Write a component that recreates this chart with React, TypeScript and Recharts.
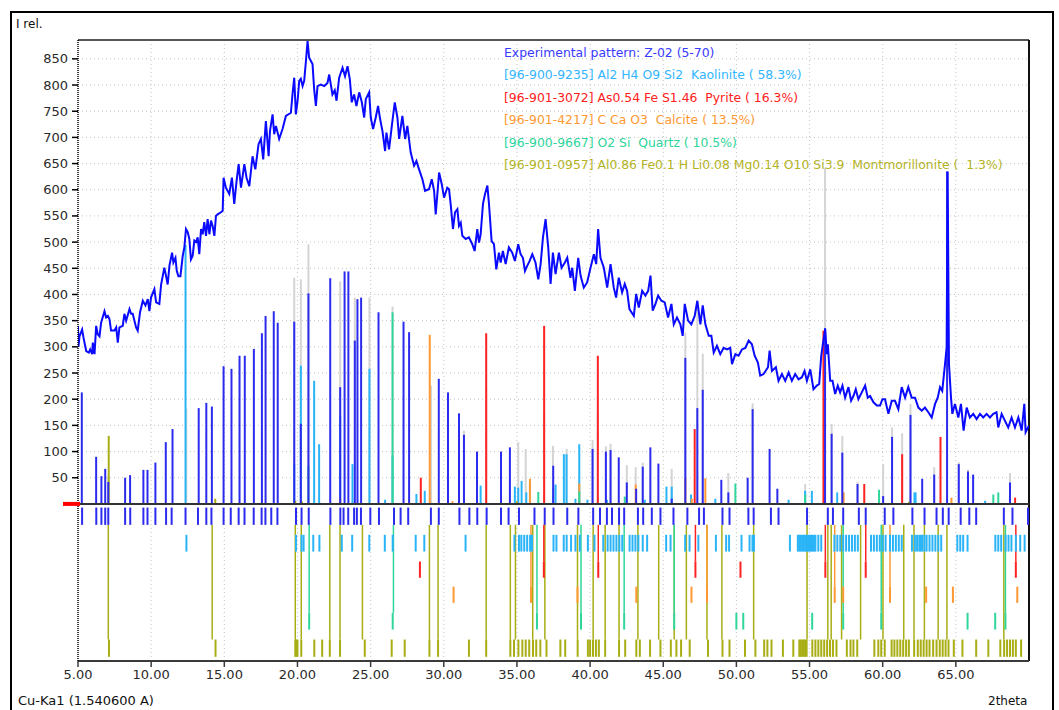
import React from 'react';
import { ComposedChart, Line, XAxis, YAxis, CartesianGrid, ReferenceLine } from 'recharts';

// ---------------- DATA ----------------
// Experimental XRD pattern: [2theta, relative intensity]
const experimentalPattern: [number, number][] = [
  [5.00,340],[5.03,300],[5.10,320],[5.28,333],[5.38,317],[5.56,292],[5.74,289],[5.83,295],[5.97,286],[6.01,308],[6.13,286],[6.24,340],[6.35,324],[6.47,320],[6.58,346],[6.81,368],[6.92,356],[7.04,359],[7.15,353],[7.26,331],[7.49,331],[7.61,337],[7.72,308],[7.83,337],[8.06,340],[8.17,363],[8.29,350],[8.52,372],[8.63,363],[8.74,363],[8.97,337],[9.08,331],[9.24,366],[9.43,388],[9.61,379],[9.77,391],[9.88,368],[9.99,394],[10.22,410],[10.34,385],[10.56,382],[10.68,419],[10.90,451],[11.02,435],[11.13,419],[11.25,455],[11.43,480],[11.52,461],[11.66,470],[11.75,445],[11.86,435],[12.00,435],[12.16,474],[12.27,490],[12.38,525],[12.50,519],[12.61,506],[12.72,467],[12.84,474],[12.95,503],[13.07,500],[13.18,509],[13.29,477],[13.41,525],[13.52,515],[13.63,538],[13.75,512],[13.86,544],[13.98,515],[14.09,541],[14.20,531],[14.32,512],[14.43,550],[14.54,553],[14.77,557],[14.89,560],[14.95,623],[15.11,604],[15.34,592],[15.52,623],[15.68,573],[15.84,617],[15.98,649],[16.14,604],[16.37,649],[16.52,623],[16.71,607],[16.93,664],[17.12,639],[17.34,687],[17.50,697],[17.66,658],[17.84,731],[18.03,664],[18.12,712],[18.30,744],[18.41,706],[18.53,722],[18.75,697],[18.98,716],[19.21,741],[19.55,747],[19.66,782],[19.78,814],[19.89,744],[20.01,770],[20.12,808],[20.23,812],[20.35,798],[20.46,808],[20.58,846],[20.69,884],[20.80,852],[21.03,840],[21.14,792],[21.26,760],[21.37,798],[21.60,801],[21.83,798],[22.05,804],[22.17,820],[22.39,782],[22.55,790],[22.67,770],[22.85,814],[23.08,833],[23.25,817],[23.42,836],[23.58,811],[23.71,767],[23.87,782],[24.03,760],[24.22,786],[24.40,767],[24.56,738],[24.67,773],[24.90,786],[25.01,738],[25.17,716],[25.35,738],[25.51,760],[25.65,735],[25.81,712],[25.99,674],[26.08,709],[26.26,677],[26.45,722],[26.65,767],[26.83,738],[26.95,697],[27.17,741],[27.36,697],[27.51,722],[27.74,671],[27.97,646],[28.13,655],[28.31,639],[28.54,620],[28.72,598],[28.99,601],[29.18,620],[29.34,598],[29.45,553],[29.68,633],[29.86,611],[30.02,585],[30.24,604],[30.36,601],[30.47,573],[30.63,525],[30.77,557],[30.93,563],[31.04,531],[31.16,537],[31.27,512],[31.50,506],[31.72,509],[31.95,496],[32.11,483],[32.29,525],[32.41,499],[32.52,515],[32.68,573],[32.82,592],[32.98,608],[33.09,573],[33.27,502],[33.43,496],[33.59,448],[33.77,480],[33.89,461],[34.04,483],[34.23,458],[34.45,490],[34.68,480],[34.86,464],[35.09,496],[35.25,477],[35.41,470],[35.55,445],[35.71,455],[35.87,464],[36.05,477],[36.27,461],[36.46,429],[36.62,458],[36.78,509],[36.96,544],[37.14,490],[37.30,420],[37.46,480],[37.64,439],[37.87,480],[38.05,451],[38.28,461],[38.44,470],[38.66,432],[38.78,451],[38.96,407],[39.19,470],[39.35,436],[39.57,413],[39.80,423],[40.03,451],[40.26,477],[40.42,458],[40.55,525],[40.71,470],[40.94,451],[41.17,413],[41.40,458],[41.62,413],[41.78,394],[41.96,432],[42.19,404],[42.37,420],[42.53,407],[42.69,372],[42.99,359],[43.15,401],[43.33,375],[43.56,407],[43.78,398],[43.97,407],[44.13,436],[44.28,369],[44.47,382],[44.65,398],[44.87,388],[45.10,385],[45.33,356],[45.56,382],[45.72,343],[45.94,356],[46.17,343],[46.33,321],[46.47,382],[46.70,350],[46.92,343],[47.15,359],[47.33,388],[47.54,343],[47.70,379],[47.88,343],[48.11,321],[48.29,321],[48.45,289],[48.67,302],[48.90,286],[49.13,298],[49.36,295],[49.58,298],[49.70,267],[49.93,286],[50.15,283],[50.38,295],[50.61,298],[50.84,312],[51.06,305],[51.25,283],[51.47,270],[51.63,245],[51.86,248],[52.16,261],[52.27,293],[52.43,254],[52.70,261],[52.88,235],[53.11,248],[53.34,235],[53.57,251],[53.79,235],[54.02,248],[54.25,238],[54.48,242],[54.66,254],[54.82,235],[55.05,257],[55.27,219],[55.50,226],[55.66,229],[55.80,283],[55.91,305],[56.07,334],[56.18,286],[56.25,305],[56.41,235],[56.57,235],[56.75,210],[56.93,226],[57.09,213],[57.25,226],[57.43,203],[57.66,223],[57.84,197],[58.00,206],[58.16,219],[58.34,200],[58.57,213],[58.80,226],[58.98,203],[59.14,206],[59.37,194],[59.60,188],[59.82,188],[59.98,200],[60.16,200],[60.39,172],[60.62,197],[60.84,197],[61.07,181],[61.30,223],[61.53,203],[61.75,223],[61.98,203],[62.21,203],[62.44,184],[62.67,178],[62.89,184],[63.12,175],[63.35,165],[63.58,191],[63.76,203],[63.92,223],[64.07,216],[64.26,267],[64.37,299],[64.44,635],[64.53,267],[64.67,203],[64.76,172],[64.94,191],[65.17,165],[65.35,191],[65.53,140],[65.74,184],[65.96,165],[66.19,172],[66.42,162],[66.65,172],[66.87,165],[67.10,172],[67.33,165],[67.56,172],[67.78,175],[67.90,146],[68.13,172],[68.35,159],[68.58,146],[68.81,165],[69.04,146],[69.27,165],[69.50,140],[69.68,191],[69.77,137],[70.00,150],
];

// Peak sticks above the baseline: [2theta, height]
const experimentalPeaks: [number, number][] = [
  [5.26,213],[6.24,90],[6.60,53],[6.86,67],[7.07,42],[8.22,50],[8.56,55],[9.47,65],[9.75,65],[10.29,79],[11.00,118],[11.46,143],[13.25,183],[13.77,193],[14.15,186],[14.95,263],[15.49,258],[16.04,283],[16.40,283],[17.02,296],[17.57,326],[17.82,359],[18.38,368],[18.65,346],[19.78,348],[20.23,153],[20.75,402],[22.24,431],[22.92,223],[23.22,444],[23.48,444],[23.92,312],[24.10,391],[24.35,394],[25.54,366],[27.25,348],[27.63,328],[29.66,239],[30.29,213],[31.04,173],[31.38,132],[32.27,100],[33.91,100],[34.52,108],[37.48,73],[40.17,105],[41.08,100],[41.40,103],[41.96,89],[42.51,41],[43.15,29],[43.60,71],[44.12,108],[44.67,77],[45.58,10],[46.51,279],[47.33,183],[47.70,218],[48.97,46],[49.45,22],[50.77,50],[51.11,181],[52.27,105],[52.80,29],[56.06,336],[56.51,134],[57.24,98],[58.28,38],[60.03,15],[60.64,128],[61.90,170],[62.70,48],[63.52,56],[64.40,635],[65.20,76],[65.83,62],[66.18,56],[68.70,41],
];
const calculatedPeaks: [number, number][] = [
  [7.07,54],[12.40,182],[19.78,432],[20.23,429],[20.75,496],[22.92,425],[23.92,394],[24.92,394],[26.50,377],[29.13,226],[31.38,140],[32.90,219],[35.09,118],[35.60,105],[36.86,175],[37.46,111],[38.40,105],[40.17,122],[40.53,175],[41.08,110],[41.40,115],[42.51,74],[43.12,70],[43.60,79],[45.58,67],[46.51,327],[47.33,388],[47.70,287],[49.45,59],[51.11,192],[54.70,38],[56.06,642],[56.51,153],[57.24,130],[58.28,42],[60.03,76],[60.64,146],[61.33,135],[61.90,191],[63.52,70],[65.20,80],[65.83,66],[68.70,59],
];
const kaoliniteSticks: [number, number][] = [
  [12.35,495],[19.78,77],[20.23,264],[21.14,235],[21.48,114],[22.92,168],[23.76,76],[24.92,258],[25.99,8],[26.50,92],[28.13,19],[28.70,25],[32.52,35],[34.86,33],[35.09,31],[35.32,44],[35.64,22],[35.89,40],[37.48,30],[37.64,37],[38.21,95],[38.39,95],[39.00,10],[39.26,114],[39.82,8],[41.15,8],[43.74,8],[45.22,33],[45.58,33],[46.90,18],[48.56,10],[53.57,8],[54.70,25],[55.16,25],[56.89,22],[62.17,22],[62.25,22],[67.00,6],
];
const pyriteSticks: [number, number][] = [
  [28.43,50],[32.90,326],[36.86,340],[40.53,283],[47.15,143],[55.95,331],[58.74,38],[61.33,95],[63.95,128],[69.05,12],
];
const calciteSticks: [number, number][] = [
  [22.92,12],[29.04,323],[30.60,5],[35.89,48],[39.26,39],[43.12,37],[46.51,49],[46.95,10],[47.88,49],[57.33,22],[64.70,12],
];
const quartzSticks: [number, number][] = [
  [20.75,73],[26.50,366],[36.46,23],[39.26,24],[42.37,14],[49.93,39],[54.70,18],[59.75,27],[67.56,18],[67.90,22],
];
const montmorilloniteSticks: [number, number][] = [
  [7.10,130],[14.38,10],[19.85,6],[20.30,5],[35.00,5],[61.80,4],
];

// Reflection positions shown in the rows below the baseline (2theta)
const experimentalRow: number[] = [5.28,6.25,6.6,6.86,7.07,8.22,8.57,9.47,9.75,10.29,11.02,11.4,12.35,13.2,13.77,14.12,14.95,15.44,15.98,16.38,17.01,17.55,17.81,18.21,18.63,19.9,20.28,20.77,22.25,22.93,23.15,23.47,23.87,24.06,24.34,24.98,25.57,26.6,27.05,27.57,29.12,29.66,31.07,31.75,32.29,32.93,33.91,34.43,35.14,36.2,36.9,37.5,38.44,39.2,40.21,40.68,41.15,41.5,41.98,42.33,43.27,43.63,44.22,44.81,45.7,46.65,47.45,47.78,49.05,49.53,50.82,51.18,52.36,52.88,54.83,56.25,56.6,57.3,58.37,58.84,60.14,60.73,62.03,62.86,63.68,64.11,64.51,65.33,65.92,66.39,68.28,68.87,69.93];
const kaoliniteRow: number[] = [12.41,19.9,20.28,20.42,21.08,21.5,23.03,23.74,24.91,25.97,26.51,28.08,28.67,31.49,34.83,35.14,35.3,35.5,35.7,35.9,36.03,37.5,37.7,38.2,38.4,38.7,39.0,39.3,39.85,40.3,40.9,41.2,41.4,41.6,41.8,42.0,42.2,42.7,42.9,43.1,43.3,43.6,43.9,45.2,45.5,46.5,46.8,47.4,48.6,49.3,49.5,50.35,50.9,51.1,51.2,53.66,54.2,54.3,54.4,54.5,54.6,54.7,54.8,54.9,55.0,55.1,55.2,55.3,55.4,55.6,55.8,56.7,56.9,57.1,57.3,57.5,57.7,57.9,58.1,58.3,59.2,59.4,59.6,59.8,60.0,60.2,60.5,60.7,60.9,61.1,61.3,62.0,62.2,62.35,62.5,62.6,62.7,62.85,63.0,63.2,63.4,63.6,63.8,64.0,65.1,65.3,65.5,65.8,67.7,67.9,68.1,68.4,68.6,68.8,69.1,69.4,69.7];
const pyriteRow: number[] = [28.37,36.84,40.56,47.2,50.28,56.08,58.84,69.1];
const calciteRow: number[] = [30.67,35.96,39.14,43.16,46.93,47.99,56.72,57.3,60.5,62.97,64.8,69.2];
const quartzRow: number[] = [20.8,26.51,36.37,39.38,42.33,45.75,50.0,50.47,55.18,57.3,59.9,65.8,67.69,68.39];
const montmorilloniteRow: number[] = [7.12,14.4,19.85,19.92,20.0,20.26,21.15,21.69,22.21,22.91,24.6,26.44,27.33,29.02,29.61,31.72,32.9,34.55,34.8,35.1,35.37,35.6,35.84,36.1,36.32,36.6,37.02,37.97,38.3,39.15,39.85,40.0,40.2,40.4,40.6,41.03,41.98,42.4,43.16,43.4,44.1,44.81,45.52,45.9,46.22,46.81,48.06,49.05,49.53,50.59,51.3,51.9,52.12,52.4,53.18,53.89,54.3,54.4,54.5,54.6,54.7,54.8,55.19,55.4,55.6,55.8,56.0,56.2,56.4,56.6,56.84,57.55,57.8,58.0,58.26,59.43,59.7,59.9,60.14,60.61,60.8,61.0,61.2,61.4,61.6,61.79,62.15,62.4,62.6,62.8,63.0,63.2,63.45,63.68,63.9,64.1,64.3,64.5,64.86,65.45,66.39,67.22,68.04,68.3,68.5,68.7,68.9,69.1,69.46];

// Match lines linking the experimental row to each phase row (2theta)
const pyriteLinks: number[] = [36.84,40.56,47.2,56.08,58.84,69.1];
const calciteLinks: number[] = [35.96,47.99,56.72,60.5];
const quartzLinks: number[] = [20.8,26.56,36.37,39.38,42.33,45.75,57.3,59.9,68.39];
const montmorilloniteLinks: number[] = [7.07,14.17,19.85,20.26,22.21,22.91,24.44,29.02,29.61,32.9,34.55,34.9,36.08,36.91,39.14,40.21,41.03,41.98,43.27,44.69,45.75,46.58,47.99,49.01,51.18,54.83,56.25,56.48,57.19,58.49,60.02,61.44,62.14,62.85,63.79,64.39,68.28];

const xTicks: number[] = [5, 10, 15, 20, 25, 30, 35, 40, 45, 50, 55, 60, 65];
const yTicks: number[] = [0, 50, 100, 150, 200, 250, 300, 350, 400, 450, 500, 550, 600, 650, 700, 750, 800, 850];

const legendLines: string[] = [
  'Experimental pattern: Z-02 (5-70)',
  '[96-900-9235] Al2 H4 O9 Si2  Kaolinite ( 58.3%)',
  '[96-901-3072] As0.54 Fe S1.46  Pyrite ( 16.3%)',
  '[96-901-4217] C Ca O3  Calcite ( 13.5%)',
  '[96-900-9667] O2 Si  Quartz ( 10.5%)',
  '[96-901-0957] Al0.86 Fe0.1 H Li0.08 Mg0.14 O10 Si3.9  Montmorillonite (  1.3%)',
];

// ---------------- STYLE ----------------
const C = {
  pattern: '#0a0aff',
  exp: '#2b2bef',
  gray: '#d4d4d4',
  kaol: '#2ab4f8',
  pyr: '#ff2222',
  calc: '#ff9933',
  qtz: '#30d69a',
  mont: '#a8ae14',
};
const legendColors = ['#3a3aff', '#33b5ff', '#ff2020', '#ff9933', '#2ed59b', '#b3b326'];

// bands (in intensity units) of the rows below the baseline
const BAND = {
  exp: [-7, -40],
  kaol: [-59, -91],
  pyr: [-110, -141],
  calc: [-158, -189],
  qtz: [-208, -240],
  mont: [-259, -292],
};
const LINK_TOP = -40;

const FONT = '"DejaVu Sans", Verdana, sans-serif';

function sticks(list: [number, number][], color: string, prefix: string, w = 2) {
  return list.map(([x, h], i) => (
    <ReferenceLine key={prefix + i} segment={[{ x, y: 0 }, { x, y: h }]} stroke={color} strokeWidth={w} />
  ));
}
function rowTicks(list: number[], band: number[], color: string, prefix: string, w = 2) {
  return list.map((x, i) => (
    <ReferenceLine key={prefix + i} segment={[{ x, y: band[0] }, { x, y: band[1] }]} stroke={color} strokeWidth={w} />
  ));
}

const YTick = (props: any) => {
  const { x, y, payload } = props;
  if (payload.value === 0) {
    return <rect x={x - 5} y={y - 2} width={17} height={4} fill="#ff0000" />;
  }
  return (
    <text x={x} y={y} dy={4.5} textAnchor="end" fontSize={13} fill="#2a2a2a" fontFamily={FONT}>
      {payload.value}
    </text>
  );
};

export default function App() {
  const data = experimentalPattern.map(([x, y]) => ({ x, y }));
  return (
    <div style={{ position: 'fixed', left: 0, top: 0, width: 1059, height: 710, background: '#fff', overflow: 'hidden', fontFamily: FONT }}>
      <div style={{ position: 'absolute', left: 10, top: 11, width: 1044, height: 720, border: '2px solid #000', boxSizing: 'border-box' }} />
      <div style={{ position: 'absolute', left: 0, top: 0 }}>
        <ComposedChart width={1059} height={710} data={data} margin={{ top: 40, right: 30, bottom: 5, left: 8 }}>
          <CartesianGrid stroke="#c4c4c4" strokeDasharray="1 3" />
          <XAxis
            type="number"
            dataKey="x"
            domain={[5, 70]}
            allowDataOverflow
            ticks={xTicks}
            interval={0}
            tickFormatter={(v: number) => v.toFixed(2)}
            height={44}
            tickSize={6}
            tickMargin={3}
            axisLine={{ stroke: '#3a3a3a', strokeWidth: 2 }}
            tickLine={{ stroke: '#3a3a3a', strokeWidth: 1.5 }}
            tick={{ fontSize: 13, fill: '#2a2a2a', fontFamily: FONT }}
          />
          <YAxis
            type="number"
            domain={[-300, 886]}
            allowDataOverflow
            ticks={yTicks}
            interval={0}
            width={70}
            tickSize={6}
            tickMargin={4}
            axisLine={{ stroke: '#000', strokeDasharray: '1 1', strokeWidth: 1.5 }}
            tickLine={{ stroke: '#000', strokeWidth: 1.5 }}
            tick={<YTick />}
          />
          <ReferenceLine y={886} stroke="#555" strokeWidth={2} />
          <ReferenceLine x={70} stroke="#111" strokeWidth={2} />

          {sticks(calculatedPeaks, C.gray, 'g')}
          {sticks(kaoliniteSticks, C.kaol, 'k')}
          {sticks(calciteSticks, C.calc, 'c')}
          {sticks(quartzSticks, C.qtz, 'q')}
          {sticks(montmorilloniteSticks, C.mont, 'm')}
          {sticks(pyriteSticks, C.pyr, 'p')}
          {sticks(experimentalPeaks, C.exp, 'e')}

          {rowTicks(montmorilloniteLinks, [LINK_TOP, BAND.mont[0]], C.mont, 'ml', 1.5)}
          {rowTicks(quartzLinks, [LINK_TOP, BAND.qtz[0]], C.qtz, 'ql', 1.5)}
          {rowTicks(calciteLinks, [LINK_TOP, BAND.calc[0]], C.calc, 'cl', 1.5)}
          {rowTicks(pyriteLinks, [LINK_TOP, BAND.pyr[0]], C.pyr, 'pl', 1.5)}

          {rowTicks(experimentalRow, BAND.exp, C.exp, 'er')}
          {rowTicks(kaoliniteRow, BAND.kaol, C.kaol, 'kr')}
          {rowTicks(pyriteRow, BAND.pyr, C.pyr, 'pr')}
          {rowTicks(calciteRow, BAND.calc, C.calc, 'cr')}
          {rowTicks(quartzRow, BAND.qtz, C.qtz, 'qr')}
          {rowTicks(montmorilloniteRow, BAND.mont, C.mont, 'mr')}

          <ReferenceLine y={0} stroke="#333" strokeWidth={2} />

          <Line
            type="linear"
            dataKey="y"
            stroke={C.pattern}
            strokeWidth={2}
            dot={false}
            activeDot={false}
            isAnimationActive={false}
          />
        </ComposedChart>
      </div>
      <svg width={1059} height={710} style={{ position: 'absolute', left: 0, top: 0, pointerEvents: 'none' }}>
        <text x={16} y={28} fontSize={12} fill="#111" fontFamily={FONT}>I rel.</text>
        <text x={18} y={705} fontSize={13} fill="#111" fontFamily={FONT}>Cu-Ka1 (1.540600 A)</text>
        <text x={988} y={705} fontSize={12} fill="#111" fontFamily={FONT}>2theta</text>
        {legendLines.map((t, i) => (
          <text key={i} x={504} y={56.6 + i * 22.55} fontSize={12.4} fill={legendColors[i]} fontFamily={FONT} style={{ whiteSpace: 'pre' }}>
            {t}
          </text>
        ))}
      </svg>
    </div>
  );
}
